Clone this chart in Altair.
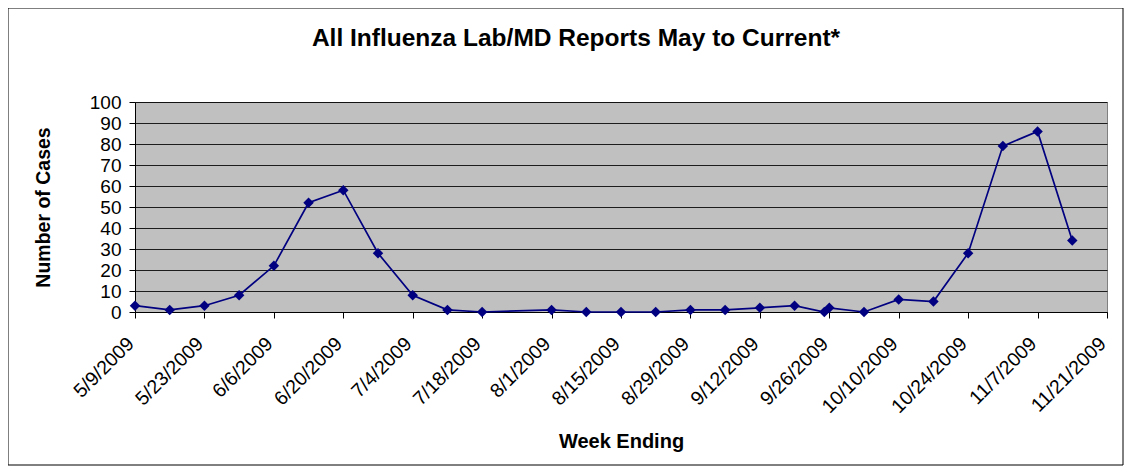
import altair as alt
import pandas as pd

dates = ["2009-05-09", "2009-05-16", "2009-05-23", "2009-05-30", "2009-06-06",
         "2009-06-13", "2009-06-20", "2009-06-27", "2009-07-04", "2009-07-11",
         "2009-07-18", "2009-08-01", "2009-08-08", "2009-08-15", "2009-08-22",
         "2009-08-29", "2009-09-05", "2009-09-12", "2009-09-19", "2009-09-25",
         "2009-09-26", "2009-10-03", "2009-10-10", "2009-10-17", "2009-10-24",
         "2009-10-31", "2009-11-07", "2009-11-14"]
cases = [3, 1, 3, 8, 22, 52, 58, 28, 8, 1,
         0, 1, 0, 0, 0, 1, 1, 2, 3, 0,
         2, 0, 6, 5, 28, 79, 86, 34]

tick_dates = [(5, 9), (5, 23), (6, 6), (6, 20), (7, 4), (7, 18), (8, 1), (8, 15),
              (8, 29), (9, 12), (9, 26), (10, 10), (10, 24), (11, 7), (11, 21)]
y_ticks = [0, 10, 20, 30, 40, 50, 60, 70, 80, 90, 100]

title_text = "All Influenza Lab/MD Reports May to Current*"
x_title = "Week Ending"
y_title = "Number of Cases"

df = pd.DataFrame({"date": [d + "T00:00:00" for d in dates], "cases": cases})

FONT = "Liberation Sans"
W, H = 972, 210

tick_vals = [alt.DateTime(year=2009, month=m, date=d) for m, d in tick_dates]

x_enc = alt.X(
    "date:T",
    scale=alt.Scale(domain=[tick_vals[0], tick_vals[-1]]),
    axis=alt.Axis(
        values=tick_vals, format="%-m/%-d/%Y", labelAngle=-45,
        labelAlign="right", labelBaseline="top", labelFont=FONT,
        labelFontSize=19.5, labelColor="black", labelPadding=16, labelOffset=-11,
        tickColor="black", tickSize=6, domainColor="black", grid=False,
        title=x_title, titleFont=FONT, titleFontSize=20, titleFontWeight="bold",
        titleColor="black", titleY=135, titleBaseline="alphabetic",
        labelOverlap=False, labelFlush=False,
    ),
)
y_enc = alt.Y(
    "cases:Q",
    scale=alt.Scale(domain=[0, 100], nice=False),
    axis=alt.Axis(
        values=y_ticks, labelFont=FONT, labelFontSize=19, labelColor="black",
        labelPadding=8, tickColor="black", tickSize=6, domainColor="black",
        labelOverlap=False, labelFlush=False,
        grid=True, gridColor="black", gridWidth=1, gridOpacity=0.85,
        title=y_title, titleFont=FONT, titleFontSize=19.5, titleFontWeight="bold",
        titleColor="black", titleX=-92, titleY=105, titleAngle=270,
        titleBaseline="middle", titleAlign="center",
    ),
)

base = alt.Chart(df)
line = base.mark_line(color="#000080", strokeWidth=1.7).encode(x=x_enc, y=y_enc)
pts = base.mark_point(shape="diamond", filled=True, color="#000080", size=110, opacity=1).encode(
    x=x_enc, y=y_enc
)

title = alt.Chart(pd.DataFrame({"t": [title_text]})).mark_text(
    font=FONT, fontSize=24.5, fontWeight="bold", color="black", align="center", baseline="middle"
).encode(x=alt.value(441), y=alt.value(-63), text="t:N")

border = alt.Chart(pd.DataFrame({"a": [0]})).mark_rect(
    fill=None, stroke="black", strokeWidth=1, clip=False
).encode(x=alt.value(-127), x2=alt.value(988), y=alt.value(-94), y2=alt.value(363))

chart = alt.layer(border, line, pts, title).properties(
    width=W, height=H,
    autosize=alt.AutoSizeParams(type="none"),
    padding={"left": 127, "top": 94, "right": 18, "bottom": 154},
).configure(
    background="white"
).configure_view(
    fill="#C0C0C0", stroke="#808080", strokeWidth=1
)

chart.save("out.html", embed_options={"renderer": "svg", "actions": False})
